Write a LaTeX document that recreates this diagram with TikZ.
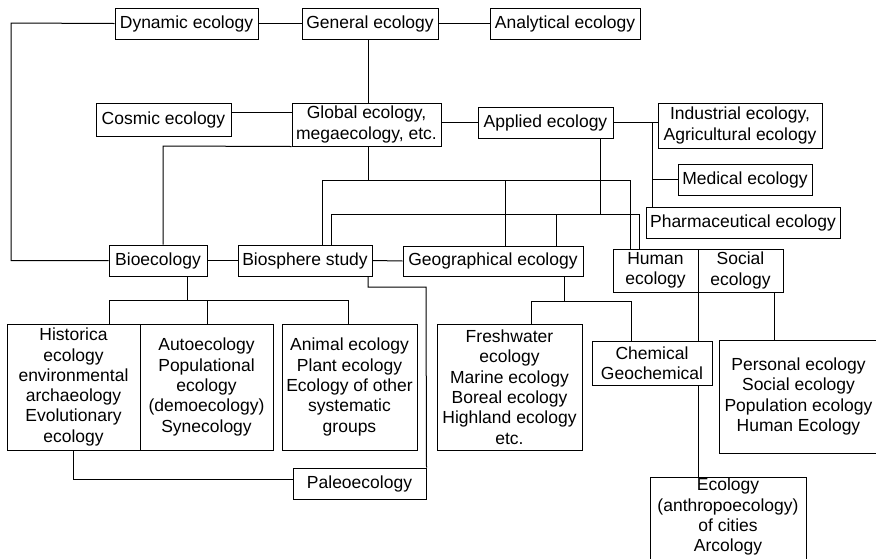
\documentclass[tikz,border=0pt]{standalone}
\usepackage{fontspec}
\setmainfont{Liberation Sans}
\tikzset{
  ebox/.style={draw, line width=1pt, inner sep=0pt, align=center, font=\fontsize{17.5}{20.3}\selectfont},
  conn/.style={line width=1pt},
  etxt/.style={inner sep=0pt, align=center, font=\fontsize{17.5}{20.3}\selectfont}
}
\newcommand\ebox[6]{\node[ebox, minimum width={#4-#2}, minimum height={#5-#3}] (#1) at ({(#2+#4)/2},{(#3+#5)/2}) {#6};}
\begin{document}
\begin{tikzpicture}[x=1pt,y=-1pt]
\useasboundingbox (0,0) rectangle (876,558);
% boxes
\ebox{dyn}{115}{8}{258}{39}{Dynamic ecology}
\ebox{gen}{302}{8}{438}{39}{General ecology}
\ebox{ana}{490}{8}{640}{39}{Analytical ecology}
\ebox{cos}{96}{103}{231}{136}{Cosmic ecology}
\ebox{glo}{292}{103}{441}{146}{Global ecology,\\megaecology, etc.}
\ebox{app}{478}{107}{613}{138}{Applied ecology}
\ebox{ind}{658}{103}{822}{148}{Industrial ecology,\\Agricultural ecology}
\ebox{med}{678}{164}{812}{195}{Medical ecology}
\ebox{pha}{646}{207}{840}{238}{Pharmaceutical ecology}
\ebox{bio}{109}{245}{207}{276}{Bioecology}
\ebox{bsp}{238}{245}{372}{276}{Biosphere study}
\ebox{geo}{403}{246}{583}{276}{Geographical ecology}
\ebox{hum}{613}{249}{698}{292}{Human\\ecology}
\ebox{soc}{698}{249}{783}{292}{Social\\ecology}
\ebox{his}{7}{324}{140}{450}{Historica\\ecology\\environmental\\archaeology\\Evolutionary\\ecology}
\ebox{aut}{140}{324}{273}{450}{Autoecology\\Populational\\ecology\\(demoecology)\\Synecology}
\ebox{ani}{282}{324}{417}{450}{Animal ecology\\Plant ecology\\Ecology of other\\systematic\\groups}
\ebox{pal}{293}{468}{426}{499}{Paleoecology}
\ebox{fre}{437}{324}{582}{450}{Freshwater\\ecology\\Marine ecology\\Boreal ecology\\Highland ecology\\etc.}
\ebox{che}{592}{341}{712}{385}{Chemical\\Geochemical}
\ebox{per}{719}{340}{878}{453}{Personal ecology\\Social ecology\\Population ecology\\Human Ecology}
\ebox{city}{650}{477}{806}{590}{}
\node[etxt, anchor=north] (citytxt) at (728,478) {Ecology\\(anthropoecology)\\of cities\\Arcology};
% named coordinates
\coordinate (lft) at (11,23);
\coordinate (cosy) at (0,112);
\coordinate (gb) at (163,146);
\coordinate (h1) at (368,180);
\coordinate (h1L) at (322,180);
\coordinate (h1M) at (505,180);
\coordinate (h1R) at (630,180);
\coordinate (h2L) at (331,214);
\coordinate (h2M) at (556,214);
\coordinate (a2) at (600,214);
\coordinate (h2R) at (639,214);
\coordinate (bus) at (652,123);
\coordinate (b1) at (187,300);
\coordinate (bL) at (109,300);
\coordinate (bM) at (207,300);
\coordinate (bR) at (348,300);
\coordinate (p1) at (368,287);
\coordinate (p2) at (426,287);
\coordinate (q1) at (73,479);
\coordinate (g1) at (564,301);
\coordinate (gL) at (531,301);
\coordinate (gR) at (631,301);
\coordinate (dv) at (698,300);
\coordinate (sv) at (774,300);
% connectors
\draw[conn] (dyn.east) -- (gen.west);
\draw[conn] (gen.east) -- (ana.west);
\draw[conn] (dyn.west) -- (lft) |- (bio.west);
\draw[conn] (gen.south -| h1) -- (glo.north -| h1);
\draw[conn] (cos.east |- cosy) -- (glo.west |- cosy);
\draw[conn] (glo.east |- app.west) -- (app.west);
\draw[conn] (app.east) -- (ind.west |- app.east);
\draw[conn] (bus) -- (bus |- pha.north);
\draw[conn] (bus |- med.west) -- (med.west);
\draw[conn] (glo.south west) -- (gb) -- (gb |- bio.north);
\draw[conn] (glo.south -| h1) -- (h1);
\draw[conn] (h1L |- bsp.north) -- (h1L) -- (h1R) -- (h1R |- hum.north);
\draw[conn] (h1M) -- (h1M |- geo.north);
\draw[conn] (h2L |- bsp.north) -- (h2L) -- (h2R) -- (h2R |- hum.north);
\draw[conn] (h2M) -- (h2M |- geo.north);
\draw[conn] (a2 |- app.south) -- (a2);
\draw[conn] (bio.east) -- (bsp.west);
\draw[conn] (bsp.east) -- (geo.west);
\draw[conn] (b1 |- bio.south) -- (b1);
\draw[conn] (bL |- his.north) -- (bL) -- (bR) -- (bR |- ani.north);
\draw[conn] (bM) -- (bM |- aut.north);
\draw[conn] (p1 |- bsp.south) -- (p1) -- (p2) -- (pal.north east);
\draw[conn] (q1 |- his.south) -- (q1) -- (pal.west |- q1);
\draw[conn] (g1 |- geo.south) -- (g1);
\draw[conn] (gL |- fre.north) -- (gL) -- (gR) -- (gR |- che.north);
\draw[conn] (dv |- hum.south) -- (dv |- che.north);
\draw[conn] (dv |- che.south) -- (dv |- city.north);
\draw[conn] (sv |- soc.south) -- (sv |- per.north);
\end{tikzpicture}
\end{document}
